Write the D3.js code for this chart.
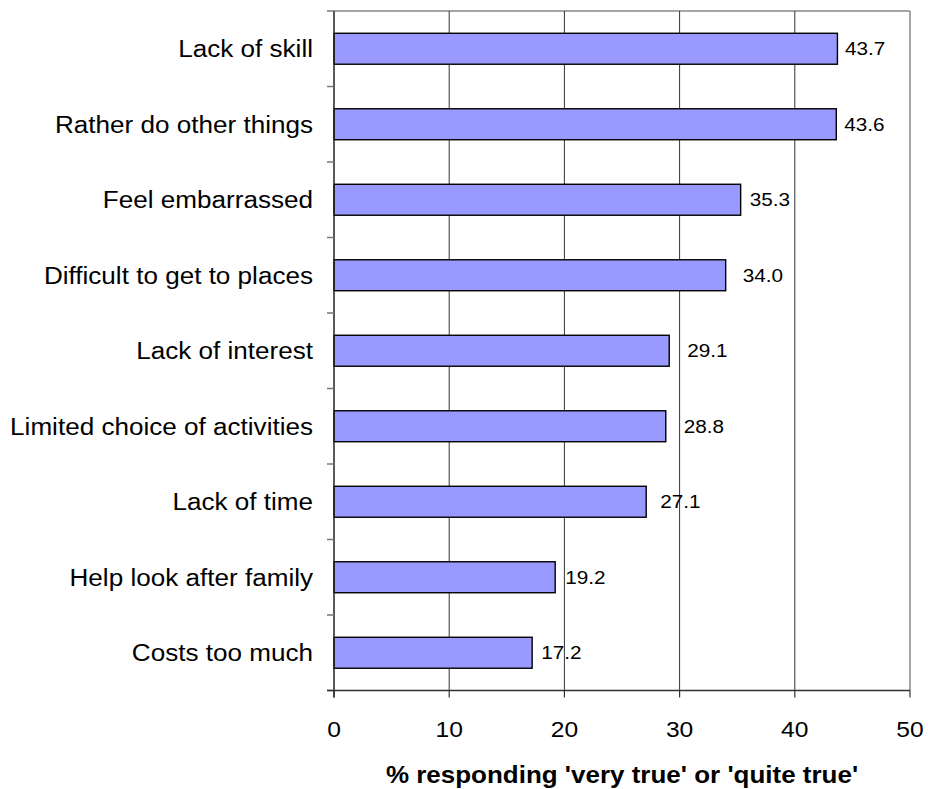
<!DOCTYPE html>
<html>
<head>
<meta charset="utf-8">
<script src="https://cdn.jsdelivr.net/npm/d3@7"></script>
<style>
  html, body { margin: 0; padding: 0; background: #fff; }
  svg { display: block; font-family: Arial, "Liberation Sans", sans-serif; }
</style>
</head>
<body>
<svg id="chart" width="928" height="789"></svg>
<script>
// Reasons given, top to bottom
const categories = [
  "Lack of skill",
  "Rather do other things",
  "Feel embarrassed",
  "Difficult to get to places",
  "Lack of interest",
  "Limited choice of activities",
  "Lack of time",
  "Help look after family",
  "Costs too much"
];
// % responding 'very true' or 'quite true'
const values = [43.7, 43.6, 35.3, 34.0, 29.1, 28.8, 27.1, 19.2, 17.2];
const xTicks = [0, 10, 20, 30, 40, 50];
const axisTitle = "% responding 'very true' or 'quite true'";
// gap between each bar end and its value label (px)
const labelGap = [7.5, 8, 9, 17, 18, 18, 14, 10, 9];

(function draw() {
  const sx = 1.12; // horizontal stretch applied to all text

  const svg = d3.select("#chart");
  const plotL = 334, plotR = 910, plotT = 11, plotB = 690.5;

  const x = d3.scaleLinear().domain([0, 50]).range([plotL, plotR]);
  const y = d3.scaleBand().domain(categories).range([plotT, plotB])
    .paddingInner(0.59).paddingOuter(0.295);

  // plot frame: top and right edges
  svg.append("line").attr("x1", plotL).attr("x2", plotR).attr("y1", plotT).attr("y2", plotT)
    .attr("stroke", "#888").attr("stroke-width", 1.5);
  svg.append("line").attr("x1", plotR).attr("x2", plotR).attr("y1", plotT).attr("y2", plotB)
    .attr("stroke", "#888").attr("stroke-width", 1.5);

  // vertical gridlines
  svg.append("g").selectAll("line")
    .data(xTicks.filter(t => t > 0 && t < 50))
    .join("line")
    .attr("x1", d => x(d)).attr("x2", d => x(d))
    .attr("y1", plotT).attr("y2", plotB)
    .attr("stroke", "#333").attr("stroke-width", 1);

  // bars
  svg.append("g").selectAll("rect")
    .data(values)
    .join("rect")
    .attr("x", x(0))
    .attr("y", (d, i) => y(categories[i]))
    .attr("width", d => x(d) - x(0))
    .attr("height", y.bandwidth())
    .attr("fill", "#9999FF")
    .attr("stroke", "#000")
    .attr("stroke-width", 1.4);

  // value labels
  svg.append("g").selectAll("text")
    .data(values)
    .join("text")
    .attr("transform", (d, i) =>
      `translate(${x(d) + labelGap[i]},${y(categories[i]) + y.bandwidth() / 2}) scale(${sx},1)`)
    .attr("dy", "0.36em")
    .attr("font-size", 18.5)
    .attr("fill", "#000")
    .text(d => d.toFixed(1));

  // y axis: line, ticks at band boundaries, labels
  svg.append("line").attr("x1", plotL).attr("x2", plotL).attr("y1", plotT).attr("y2", plotB + 7)
    .attr("stroke", "#222").attr("stroke-width", 1.5);
  const bounds = d3.range(categories.length + 1).map(i => plotT + i * y.step());
  svg.append("g").selectAll("line")
    .data(bounds)
    .join("line")
    .attr("x1", plotL - 7).attr("x2", plotL)
    .attr("y1", d => d).attr("y2", d => d)
    .attr("stroke", "#777").attr("stroke-width", 1.5);
  svg.append("g").selectAll("text")
    .data(categories)
    .join("text")
    .attr("transform", d => `translate(313,${y(d) + y.bandwidth() / 2}) scale(${sx},1)`)
    .attr("dy", "0.36em")
    .attr("text-anchor", "end")
    .attr("font-size", 23.3)
    .attr("fill", "#000")
    .text(d => d);

  // x axis
  svg.append("line").attr("x1", plotL - 7).attr("x2", plotR).attr("y1", plotB).attr("y2", plotB)
    .attr("stroke", "#333").attr("stroke-width", 1.5);
  svg.append("g").selectAll("line")
    .data(xTicks)
    .join("line")
    .attr("x1", d => x(d)).attr("x2", d => x(d))
    .attr("y1", plotB).attr("y2", plotB + 7)
    .attr("stroke", "#333").attr("stroke-width", 1.2);
  svg.append("g").selectAll("text")
    .data(xTicks)
    .join("text")
    .attr("transform", d => `translate(${x(d)},737) scale(${sx},1)`)
    .attr("text-anchor", "middle")
    .attr("font-size", 22)
    .attr("fill", "#000")
    .text(d => d);

  // axis title
  svg.append("text")
    .attr("transform", `translate(${(plotL + plotR) / 2},783) scale(${sx},1)`)
    .attr("text-anchor", "middle")
    .attr("font-size", 23.2)
    .attr("font-weight", "bold")
    .attr("fill", "#000")
    .text(axisTitle);
})();
</script>
</body>
</html>
